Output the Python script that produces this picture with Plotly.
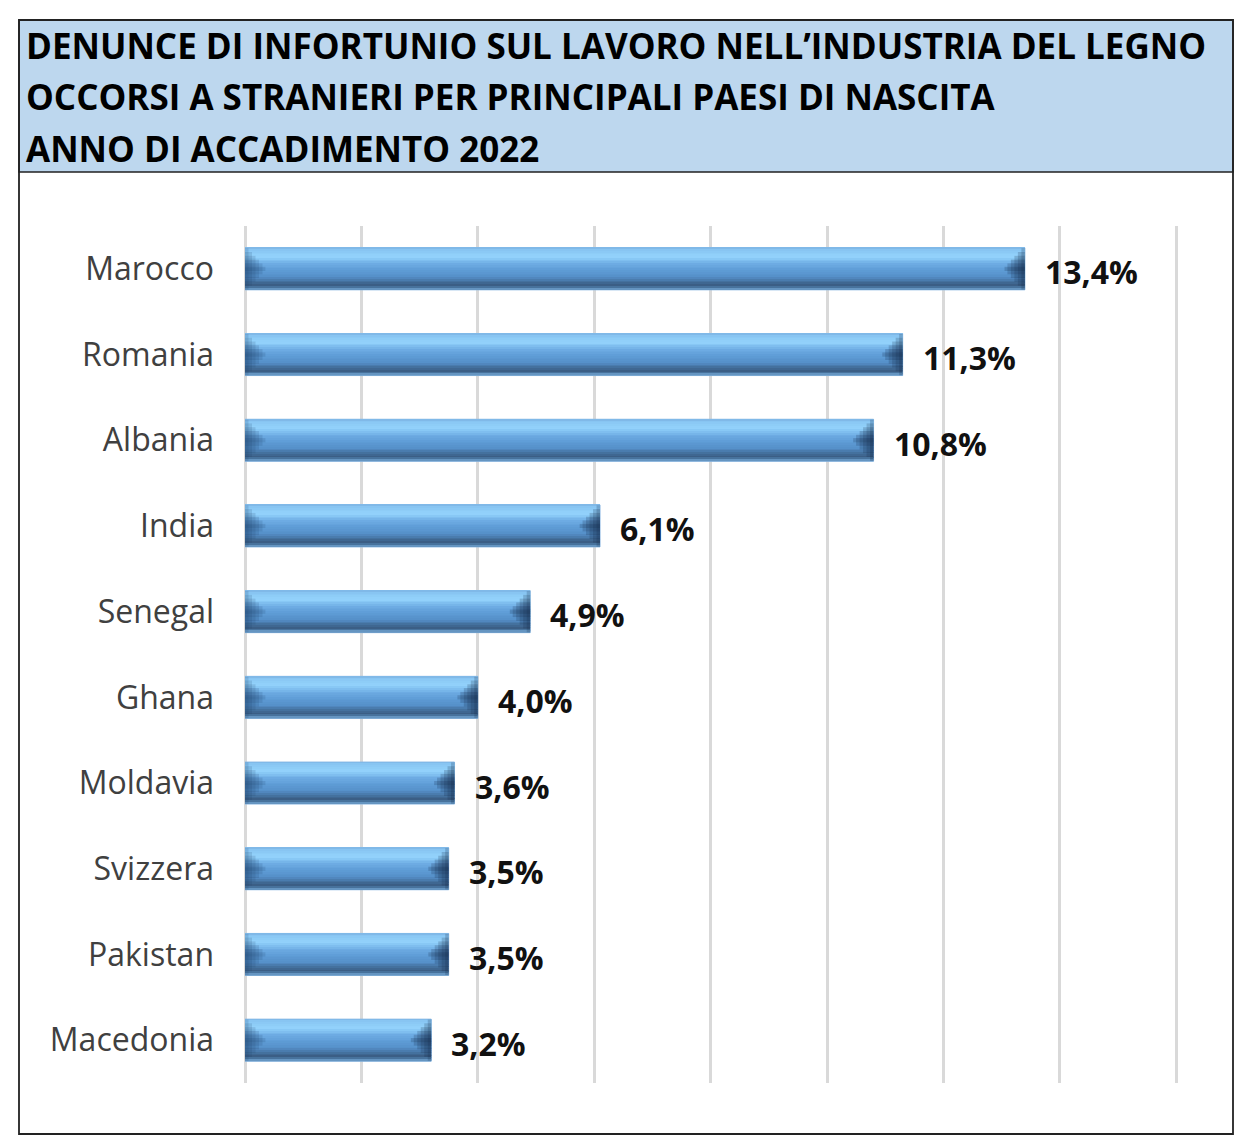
import plotly.graph_objects as go

countries = ["Marocco", "Romania", "Albania", "India", "Senegal", "Ghana",
             "Moldavia", "Svizzera", "Pakistan", "Macedonia"]
values = [13.4, 11.3, 10.8, 6.1, 4.9, 4.0, 3.6, 3.5, 3.5, 3.2]
x_ticks = [0, 2, 4, 6, 8, 10, 12, 14, 16]
title_lines = ["DENUNCE DI INFORTUNIO SUL LAVORO NELL\u2019INDUSTRIA DEL LEGNO",
               "OCCORSI A STRANIERI PER PRINCIPALI PAESI DI NASCITA",
               "ANNO DI ACCADIMENTO 2022"]

labels = [f"{v:.1f}".replace(".", ",") + "%" for v in values]

W, H = 1252, 1148
OFF = 8  # page body margin
FONT = "Open Sans"


def px(x):
    return (x - OFF) / W


def py(y):
    return 1 - (y - OFF) / H


def hex2rgb(h):
    h = h.lstrip("#")
    return tuple(int(h[i:i + 2], 16) for i in (0, 2, 4))


# gradient colour stops across bar thickness (top -> bottom on screen)
stops = [(0.00, "#7DB3E3"), (0.06, "#88C5F2"), (0.22, "#94D4FD"),
         (0.40, "#6DABE3"), (0.55, "#5E9CD6"), (0.70, "#5690C9"),
         (0.82, "#436F9C"), (0.90, "#3B5E84"), (0.96, "#4F7EAB"),
         (1.00, "#7EAEDA")]


def color_at(t):
    for (a, ca), (b, cb) in zip(stops[:-1], stops[1:]):
        if a <= t <= b:
            f = (t - a) / (b - a) if b > a else 0
            r1, g1, b1 = hex2rgb(ca)
            r2, g2, b2 = hex2rgb(cb)
            return "rgb(%d,%d,%d)" % (r1 + (r2 - r1) * f, g1 + (g2 - g1) * f,
                                      b1 + (b2 - b1) * f)
    return stops[-1][1]


fig = go.Figure()
BAR_W = 0.49
N = 24

fig.add_trace(go.Bar(
    y=countries, x=values, orientation="h", width=BAR_W,
    marker=dict(color="#5B9BD5", line=dict(color="#8DB9E2", width=1)),
    showlegend=False, hoverinfo="skip",
))

for k in range(N):
    a, b = k / N, (k + 1) / N
    fig.add_trace(go.Bar(
        y=countries, x=values, orientation="h",
        width=(b - a) * BAR_W * 1.02, offset=-BAR_W / 2 + a * BAR_W,
        marker=dict(color=color_at((a + b) / 2), line=dict(width=0)),
        showlegend=False, hoverinfo="skip",
    ))

# bevelled ends: layered translucent wedges
n_vals = len(values)
wedge = [(0.06, 0.98), (0.12, 0.80), (0.18, 0.62), (0.24, 0.44), (0.30, 0.26), (0.35, 0.10)]
for length, frac in wedge:
    h = BAR_W * frac
    fig.add_trace(go.Bar(
        y=countries, x=[length] * n_vals, base=[0] * n_vals, orientation="h",
        width=h, offset=-h / 2,
        marker=dict(color="rgba(30,60,100,0.15)", line=dict(width=0)),
        showlegend=False, hoverinfo="skip",
    ))
    fig.add_trace(go.Bar(
        y=countries, x=[length] * n_vals, base=[v - length for v in values],
        orientation="h", width=h, offset=-h / 2,
        marker=dict(color="rgba(15,35,65,0.20)", line=dict(width=0)),
        showlegend=False, hoverinfo="skip",
    ))

x_max = 16.06
x0 = px(245)
x1 = px(245 + 58.2 * x_max)
y_top = py(226)
y_bot = py(1083)

fig.update_layout(
    width=W, height=H,
    margin=dict(l=0, r=0, t=0, b=0),
    paper_bgcolor="white", plot_bgcolor="white",
    barmode="overlay",
    font=dict(family=FONT),
    xaxis=dict(domain=[x0, x1], range=[0, x_max], tickvals=x_ticks,
               showticklabels=False, showgrid=True, gridcolor="#D9D9D9",
               gridwidth=2.5, zeroline=True, zerolinecolor="#D9D9D9",
               zerolinewidth=2.5, showline=False, fixedrange=True),
    yaxis=dict(domain=[y_bot, y_top], autorange="reversed",
               tickfont=dict(family=FONT, size=32, color="#404040"),
               ticklabelstandoff=30, showgrid=False, showline=False,
               ticks="", fixedrange=True),
    shapes=[
        dict(type="rect", xref="paper", yref="paper",
             x0=px(19), x1=px(1233), y0=py(172), y1=py(20),
             fillcolor="#BDD7EE", line=dict(color="#222222", width=1.5),
             layer="below"),
        dict(type="rect", xref="paper", yref="paper",
             x0=px(19), x1=px(1233), y0=py(1134), y1=py(20),
             fillcolor="rgba(0,0,0,0)", line=dict(color="#222222", width=1.8),
             layer="above"),
    ],
)

for c, v, lab in zip(countries, values, labels):
    fig.add_annotation(
        x=v, y=c, xref="x", yref="y", text=lab, showarrow=False,
        xanchor="left", yanchor="middle", xshift=18, yshift=-3,
        font=dict(family=FONT, size=32, color="#111111", weight="bold"),
    )

for i, line in enumerate(title_lines):
    fig.add_annotation(
        xref="paper", yref="paper", x=px(24), y=py(46 + 51 * i),
        xanchor="left", yanchor="middle", showarrow=False,
        text=line, font=dict(family=FONT, size=35, color="#000000", weight="bold"),
    )

fig.write_html("out.html")
